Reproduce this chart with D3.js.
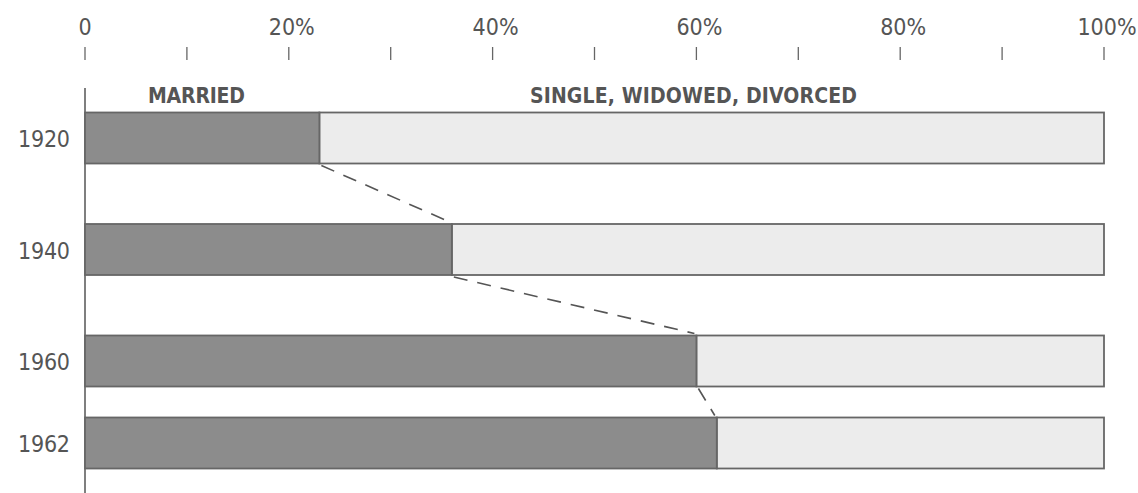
<!DOCTYPE html>
<html><head><meta charset="utf-8">
<script src="https://cdn.jsdelivr.net/npm/d3@7"></script>
<style>
html,body{margin:0;padding:0;background:#fff;}
text{font-family:"DejaVu Sans Condensed","DejaVu Sans",sans-serif;font-stretch:condensed;fill:#555;}
</style></head>
<body><svg id="c" width="1138" height="493"></svg>
<script>
const years = [1920, 1940, 1960, 1962];
const married = [23, 36, 60, 62];
const other = [77, 64, 40, 38];
const tickValues = [0,10,20,30,40,50,60,70,80,90,100];
const tickLabels = ["0","","20%","","40%","","60%","","80%","","100%"];
const seriesLabels = ["MARRIED", "SINGLE, WIDOWED, DIVORCED"];

const svg = d3.select("#c");
const x = d3.scaleLinear().domain([0,100]).range([85,1104]);
const y = d3.scaleLinear().domain([1920,1960,1962]).range([138,361,443]);
const bh = 51;

// top axis
const ax = svg.append("g");
ax.selectAll("line.tick").data(tickValues).join("line")
  .attr("x1", d=>x(d)).attr("x2", d=>x(d)).attr("y1",47).attr("y2",60)
  .attr("stroke","#666").attr("stroke-width",1.3);
ax.selectAll("text.tl").data(tickValues).join("text")
  .attr("x", d=>x(d)+(d===0?0:3)).attr("y",35).attr("text-anchor","middle")
  .attr("font-size",23)
  .text((d,i)=>tickLabels[i]);

// vertical baseline
svg.append("line").attr("x1",x(0)).attr("x2",x(0)).attr("y1",88).attr("y2",493)
  .attr("stroke","#555").attr("stroke-width",1.5);

// series labels
svg.append("text").attr("x",148).attr("y",103).attr("font-size",21).style("font-weight","bold").attr("textLength",97).text(seriesLabels[0]);
svg.append("text").attr("x",530).attr("y",103).attr("font-size",21).style("font-weight","bold").attr("textLength",327).text(seriesLabels[1]);

// bars
const g = svg.append("g");
years.forEach((yr,i)=>{
  const yc = y(yr);
  g.append("rect").attr("x",x(married[i])).attr("y",yc-bh/2)
    .attr("width",x(married[i]+other[i])-x(married[i])).attr("height",bh)
    .attr("fill","#ececec").attr("stroke","#666").attr("stroke-width",1.8);
  g.append("rect").attr("x",x(0)).attr("y",yc-bh/2)
    .attr("width",x(married[i])-x(0)).attr("height",bh)
    .attr("fill","#8c8c8c").attr("stroke","#666").attr("stroke-width",1.8);
  svg.append("text").attr("x",70).attr("y",yc+9).attr("text-anchor","end")
    .attr("font-size",23).attr("textLength",52).text(yr);
});

// dashed connectors
for(let i=0;i<years.length-1;i++){
  svg.append("line")
    .attr("x1",x(married[i])+2).attr("y1",y(years[i])+bh/2+2)
    .attr("x2",x(married[i+1])-2).attr("y2",y(years[i+1])-bh/2-2)
    .attr("stroke","#555").attr("stroke-width",1.6).attr("stroke-dasharray","14,10");
}
</script></body></html>
